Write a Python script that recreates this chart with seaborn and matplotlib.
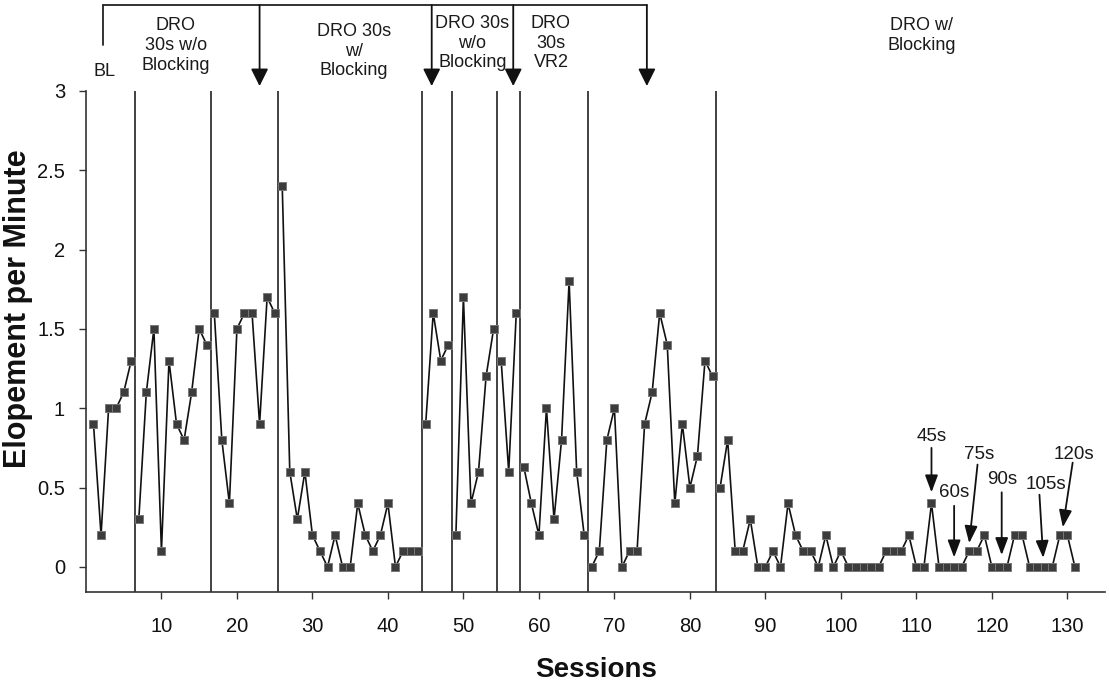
import numpy as np
import pandas as pd
import seaborn as sns
from matplotlib import pyplot as plt

# elopement per minute, one value per session (1..131)
sessions = np.arange(1, 132)
rate = [0.9, 0.2, 1.0, 1.0, 1.1, 1.3, 0.3, 1.1, 1.5, 0.1,
        1.3, 0.9, 0.8, 1.1, 1.5, 1.4, 1.6, 0.8, 0.4, 1.5,
        1.6, 1.6, 0.9, 1.7, 1.6, 2.4, 0.6, 0.3, 0.6, 0.2,
        0.1, 0.0, 0.2, 0.0, 0.0, 0.4, 0.2, 0.1, 0.2, 0.4,
        0.0, 0.1, 0.1, 0.1, 0.9, 1.6, 1.3, 1.4, 0.2, 1.7,
        0.4, 0.6, 1.2, 1.5, 1.3, 0.6, 1.6, 0.63, 0.4, 0.2,
        1.0, 0.3, 0.8, 1.8, 0.6, 0.2, 0.0, 0.1, 0.8, 1.0,
        0.0, 0.1, 0.1, 0.9, 1.1, 1.6, 1.4, 0.4, 0.9, 0.5,
        0.7, 1.3, 1.2, 0.5, 0.8, 0.1, 0.1, 0.3, 0.0, 0.0,
        0.1, 0.0, 0.4, 0.2, 0.1, 0.1, 0.0, 0.2, 0.0, 0.1,
        0.0, 0.0, 0.0, 0.0, 0.0, 0.1, 0.1, 0.1, 0.2, 0.0,
        0.0, 0.4, 0.0, 0.0, 0.0, 0.0, 0.1, 0.1, 0.2, 0.0,
        0.0, 0.0, 0.2, 0.2, 0.0, 0.0, 0.0, 0.0, 0.2, 0.2, 0.0]

# phase change lines (between sessions)
phase_changes = [6.5, 16.5, 25.5, 44.5, 48.5, 54.5, 57.5, 66.5, 83.5]

# phase labels at the top
phase_labels = ["BL", "DRO\n30s w/o\nBlocking", "DRO 30s\nw/\nBlocking",
                "DRO 30s\nw/o\nBlocking", "DRO\n30s\nVR2", "DRO w/\nBlocking"]
phase_label_x = [2.4, 11.9, 35.5, 51.2, 61.6, 110.7]
phase_label_y = [3.12, 3.285, 3.25, 3.30, 3.30, 3.35]

# arrows from the bracket at the top
bracket_start = 2.2
bracket_arrows = [23.0, 45.8, 56.6, 74.3]

# DRO interval annotations in the last phase
interval_labels = ["45s", "60s", "75s", "90s", "105s", "120s"]
interval_text = [(112.0, 0.82), (115.0, 0.47), (118.3, 0.71), (121.3, 0.55), (127.2, 0.52), (130.9, 0.71)]
interval_tail = [(112.0, 0.75), (115.0, 0.385), (118.1, 0.645), (121.3, 0.47), (126.3, 0.455), (130.7, 0.657)]
interval_head = [(112.0, 0.47), (115.0, 0.06), (117.0, 0.15), (121.3, 0.075), (126.8, 0.057), (129.4, 0.25)]

df = pd.DataFrame({"session": sessions, "rate": rate})
df["phase"] = np.digitize(df["session"], phase_changes)

sns.set_style("ticks")
plt.rcParams['font.family'] = ['Liberation Sans', 'DejaVu Sans']

fig = plt.figure(figsize=(11.09, 6.88), dpi=100)
ax = fig.add_axes([0.0775, 0.140, 0.919, 0.728])

sns.lineplot(data=df, x="session", y="rate", units="phase", estimator=None,
             color="#111111", lw=1.2, marker="s", markersize=6,
             markerfacecolor="#3c3c3c", markeredgecolor="#777777",
             markeredgewidth=0.7, ax=ax, legend=False, zorder=3)

for x in phase_changes:
    ax.vlines(x, -0.16, 3.0, color="#333333", lw=1.3, zorder=2)

ax.set_xlim(0, 135)
ax.set_ylim(-0.156, 3.0)
ax.set_xticks(np.arange(10, 131, 10))
ax.set_yticks(np.arange(0, 3.01, 0.5))
ax.set_yticklabels(["0", "0.5", "1", "1.5", "2", "2.5", "3"])
ax.tick_params(axis="y", length=5, width=1, pad=10, labelsize=14.5, color="#333333", labelcolor="#111111")
ax.tick_params(axis="x", length=5, width=1, pad=13, labelsize=14.5, color="#333333", labelcolor="#111111")
for side in ["top", "right"]:
    ax.spines[side].set_visible(False)
for side in ["left", "bottom"]:
    ax.spines[side].set_color("#333333")
    ax.spines[side].set_linewidth(1.2)

ax.set_xlabel("Sessions", fontsize=20, fontweight="bold", color="#111111")
ax.set_ylabel("Elopement per Minute", fontsize=22, fontweight="bold", color="#111111")
ax.xaxis.set_label_coords(0.501, -0.13)
ax.yaxis.set_label_coords(-0.052, 0.565)

# bracket and arrows at the top
ax.plot([bracket_start, bracket_arrows[-1]], [3.54, 3.54], color="#222222", lw=1.3, clip_on=False)
ax.plot([bracket_start, bracket_start], [3.54, 3.29], color="#222222", lw=1.3, clip_on=False)
for x in bracket_arrows:
    ax.annotate("", xy=(x, 3.03), xytext=(x, 3.54), annotation_clip=False,
                arrowprops=dict(arrowstyle="-|>,head_length=0.7,head_width=0.35",
                                color="#111111", lw=1.3, mutation_scale=15,
                                shrinkA=0, shrinkB=0))

for lab, x, y in zip(phase_labels, phase_label_x, phase_label_y):
    ax.text(x, y, lab, ha="center", va="center", fontsize=13, color="#1a1a1a",
            linespacing=1.2, clip_on=False)

for lab, (tx, ty), (ax0, ay0), (hx, hy) in zip(interval_labels, interval_text, interval_tail, interval_head):
    ax.text(tx, ty, lab, ha="center", va="center", fontsize=13.5, color="#1a1a1a")
    ax.annotate("", xy=(hx, hy), xytext=(ax0, ay0),
                arrowprops=dict(arrowstyle="-|>,head_length=0.8,head_width=0.3",
                                color="#111111", lw=1.3, mutation_scale=13,
                                shrinkA=0, shrinkB=0))

fig.savefig("out.png", dpi=100)
